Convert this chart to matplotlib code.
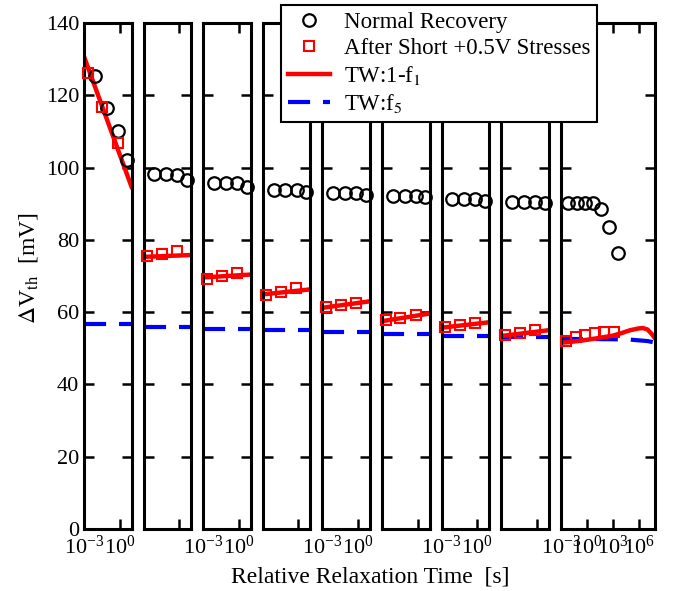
import numpy as np
import matplotlib.pyplot as plt

plt.rcParams['font.family'] = ['Liberation Serif', 'DejaVu Serif']
plt.rcParams['mathtext.fontset'] = 'stix'

# relative relaxation times inside each recovery window [s]
t_window = [1e-3, 1e1]
t_window_last = [1e-3, 7e7]
t_normal = [8e-3, 8e-2, 0.7, 4.5]
t_stress = [2e-3, 3.6e-2, 0.68]
t_normal_last = [6.5e-3, 7e-2, 0.6, 5, 40, 350, 3700]
t_stress_last = [4e-3, 5e-2, 0.7, 9, 100, 1260]

# Delta Vth [mV], one list per recovery window
normal_recovery = [
    [125.2, 116.4, 110.0, 102.1],
    [98.2, 98.2, 97.9, 96.6],
    [95.6, 95.6, 95.6, 94.7],
    [93.8, 93.8, 93.8, 93.3],
    [92.9, 92.9, 92.9, 92.4],
    [92.1, 92.1, 92.1, 91.8],
    [91.2, 91.2, 91.2, 90.8],
    [90.6, 90.6, 90.6, 90.3],
    [90.2, 90.2, 90.2, 90.1, 88.5, 83.6, 76.4],
]
after_stress = [
    [126.1, 116.7, 106.7],
    [75.4, 76.0, 76.8],
    [69.2, 70.0, 70.7],
    [64.7, 65.7, 66.6],
    [61.5, 62.0, 62.6],
    [57.8, 58.3, 59.2],
    [56.0, 56.4, 56.9],
    [53.7, 54.3, 55.1],
    [51.9, 53.2, 53.7, 54.2, 54.6, 54.5],
]

# TW model 1-f1, values at the window edges (windows 1-8)
tw_1mf1 = [
    [130.7, 94.7], [75.3, 75.8], [69.6, 70.4], [64.9, 66.3],
    [61.2, 63.0], [57.5, 59.6], [55.7, 57.2], [53.4, 55.0],
]
t_tw_last = [1e-3, 1e-1, 1e1, 1e3, 1e4, 1e5, 1e6, 3e6, 1e7, 3e7, 7e7]
tw_1mf1_last = [51.5, 52.0, 52.7, 53.5, 54.2, 55.0, 55.5, 55.6, 55.2, 54.0, 52.8]

# TW model f5
tw_f5 = [56.7, 55.9, 55.3, 55.0, 54.6, 54.0, 53.5, 53.0]
t_f5_last = [1e-3, 1e3, 1e5, 1e6, 1e7, 7e7]
tw_f5_last = [52.6, 52.5, 52.4, 52.2, 52.0, 51.6]

yticks = [0, 20, 40, 60, 80, 100, 120, 140]

W, H = 674, 591
fig = plt.figure(figsize=(W / 100, H / 100), dpi=100)

top, bottom = 23, 529
red = '#ff0000'
blue = '#0000ff'

for i in range(9):
    left = 84 + i * 59.6
    width = 94 if i == 8 else 47.5
    ax = fig.add_axes([left / W, (H - bottom) / H, width / W, (bottom - top) / H])
    ax.set_xscale('log')
    ax.set_ylim(0, 140)
    last = i == 8

    if last:
        ax.set_xlim(*t_window_last)
        ax.plot(t_f5_last, tw_f5_last, color=blue, lw=3, dashes=(5.3, 3.1))
        ax.plot(t_tw_last, tw_1mf1_last, color=red, lw=3.2)
        tn, ts = t_normal_last, t_stress_last
        ax.set_xticks([1e-3, 1e0, 1e3, 1e6])
    else:
        ax.set_xlim(*t_window)
        ax.plot(t_window, [tw_f5[i], tw_f5[i]], color=blue, lw=3, dashes=(5.3, 3.1))
        ax.plot(t_window, tw_1mf1[i], color=red, lw=3.2)
        tn, ts = t_normal, t_stress
        ax.set_xticks([1e-3, 1e0])

    ax.plot(tn, normal_recovery[i], 'o', ms=9, mfc='none', mec='black', mew=1.6,
            clip_on=False, zorder=3)
    ax.plot(ts, after_stress[i], 's', ms=7.5, mfc='none', mec=red, mew=1.5,
            clip_on=False, zorder=3)

    ax.xaxis.set_minor_locator(plt.NullLocator())
    ax.set_yticks(yticks)
    ax.tick_params(direction='in', top=True, right=True, length=7, width=1.8,
                   labelsize=16)
    ax.tick_params(axis='x', pad=5)
    if i % 2 == 1:
        ax.set_xticklabels([])
    if i > 0:
        ax.set_yticklabels([])
    for sp in ax.spines.values():
        sp.set_linewidth(2.2)

fig.text(370 / W, 1 - 577 / H, 'Relative Relaxation Time  [s]', ha='center',
         va='center', fontsize=17)
fig.text(29 / W, 1 - 268 / H, r'$\Delta$V$_{\rm th}$  [mV]', ha='center',
         va='center', rotation=90, fontsize=17)

handles = [
    plt.Line2D([], [], ls='none', marker='o', ms=9, mfc='none', mec='black', mew=1.6),
    plt.Line2D([], [], ls='none', marker='s', ms=7.5, mfc='none', mec=red, mew=1.5),
    plt.Line2D([], [], color=red, lw=3.2),
    plt.Line2D([], [], color=blue, lw=3, dashes=(5.3, 3.1)),
]
labels = ['Normal Recovery', 'After Short +0.5V Stresses',
          r'TW:1-f$_{\rm 1}$', r'TW:f$_{\rm 5}$']
leg = fig.legend(handles, labels, loc='upper left',
                 bbox_to_anchor=(281 / W, 1 - 5 / H), borderaxespad=0,
                 fontsize=16.5, handlelength=1.83, handletextpad=0.6,
                 labelspacing=0.22, borderpad=0.3, fancybox=False,
                 framealpha=1, edgecolor='black')
leg.get_frame().set_linewidth(1.5)

fig.savefig('out.png', dpi=100)
